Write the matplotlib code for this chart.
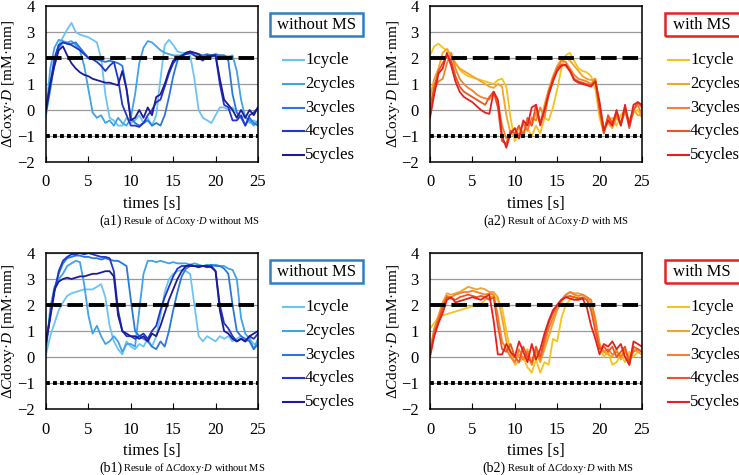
import numpy as np
import matplotlib
matplotlib.use('Agg')
import matplotlib.pyplot as plt
from matplotlib.lines import Line2D
from matplotlib.patches import Rectangle

plt.rcParams['font.family'] = ['Liberation Serif', 'DejaVu Serif']
plt.rcParams['mathtext.fontset'] = 'custom'
plt.rcParams['mathtext.rm'] = 'Liberation Serif'
plt.rcParams['mathtext.it'] = 'Liberation Serif:italic'

# sampling grid [s]
times = np.arange(0, 25.5, 0.5)
labels = ['1cycle', '2cycles', '3cycles', '4cycles', '5cycles']

# (a1) dCoxy*D without MS
a1_c1 = [-0.2, 0.8, 1.9, 2.5, 2.8, 3.1, 3.35, 3.0, 2.9, 2.85, 2.8, 2.7, 2.6, 2.0, 0.6, -0.3, -0.4, -0.6, -0.6, -0.3,
         -0.5, -0.4, -0.2, -0.5, -0.3, -0.6, -0.2, 1.2, 2.5, 2.7, 2.5, 2.25, 2.2, 2.2, 2.1, 1.2, 0.0, -0.3, -0.4, -0.5,
         -0.2, 0.1, 0.1, 0.0, 0.1, -0.1, -0.3, -0.2, -0.5, -0.4, -0.5]
a1_c2 = [-0.2, 1.6, 2.4, 2.7, 2.65, 2.6, 2.65, 2.5, 2.3, 1.7, 0.8, -0.1, -0.3, -0.2, -0.5, -0.4, -0.6, -0.3, -0.5, -0.6,
         -0.3, 0.6, 1.8, 2.4, 2.65, 2.6, 2.45, 2.3, 2.2, 2.15, 2.1, 2.1, 2.1, 2.15, 2.2, 2.1, 2.1, 2.05, 2.1, 2.1,
         2.05, 2.1, 2.1, 2.05, 2.1, 1.5, 0.4, -0.3, -0.4, -0.6, -0.4]
a1_c3 = [-0.1, 0.8, 1.8, 2.4, 2.6, 2.55, 2.55, 2.6, 2.4, 2.2, 2.0, 2.0, 1.95, 1.9, 1.85, 1.9, 1.85, 1.8, 1.7, 0.8,
         -0.3, -0.5, -0.6, -0.5, -0.4, -0.6, -0.5, -0.6, -0.2, 0.5, 1.3, 1.9, 2.1, 2.2, 2.25, 2.2, 2.15, 2.1, 2.15, 2.1,
         2.15, 2.1, 2.1, 1.9, 0.6, -0.1, -0.3, -0.6, -0.3, -0.5, -0.6]
a1_c4 = [0.0, 1.0, 2.0, 2.5, 2.6, 2.55, 2.5, 2.4, 2.3, 2.15, 2.0, 1.95, 1.85, 1.7, 1.5, 1.7, 1.85, 1.2, 0.2, -0.2,
         -0.6, -0.6, -0.65, -0.5, -0.2, 0.0, 0.3, 0.4, 0.9, 1.4, 1.8, 2.0, 2.1, 2.15, 2.2, 2.1, 2.0, 1.9, 2.1, 2.05,
         2.1, 1.0, 0.2, 0.1, -0.4, -0.4, -0.2, -0.6, -0.2, -0.1, 0.1]
a1_c5 = [0.0, 1.0, 1.7, 2.3, 2.45, 2.1, 1.8, 1.6, 1.45, 1.35, 1.3, 1.2, 1.15, 1.1, 1.05, 1.05, 1.0, 0.95, 1.5, 0.8,
         -0.4, -0.3, 0.0, -0.3, 0.1, -0.2, 0.5, 0.6, 1.0, 1.5, 1.9, 2.0, 2.05, 2.2, 2.25, 2.2, 2.15, 2.0, 2.05, 2.1,
         2.1, 1.2, 0.4, 0.2, 0.0, -0.3, 0.0, -0.3, 0.0, -0.2, 0.1]

# (a2) dCoxy*D with MS
a2_c1 = [2.1, 2.45, 2.55, 2.4, 2.3, 2.05, 1.8, 1.55, 1.4, 1.3, 1.25, 1.2, 1.15, 1.1, 1.05, 1.0, 1.15, 1.2, 0.9, -0.3,
         -1.2, -0.9, -0.8, -0.7, -1.0, -0.6, -0.9, -0.3, -0.4, 0.1, 0.8, 1.6, 2.1, 2.2, 1.9, 1.6, 1.5, 1.45, 1.3, 0.8,
         -0.3, -0.9, -0.4, -0.3, -0.6, -0.2, 0.0, -0.5, -0.1, 0.0, -0.3]
a2_c2 = [0.5, 1.2, 1.6, 2.2, 2.35, 2.1, 1.8, 1.6, 1.5, 1.4, 1.3, 1.2, 1.1, 1.0, 0.9, 0.85, 1.0, 0.9, -0.2, -0.9,
         -1.0, -0.7, -1.0, -0.4, -0.6, -0.1, -0.5, 0.2, 0.8, 1.3, 1.7, 1.95, 2.05, 1.9, 1.7, 1.5, 1.3, 1.2, 1.15, 1.2,
         0.2, -0.7, -0.5, -0.7, -0.3, -0.5, -0.1, -0.4, 0.0, -0.2, -0.2]
a2_c3 = [-0.2, 0.8, 1.1, 1.2, 1.8, 2.2, 1.6, 1.2, 1.0, 0.85, 0.75, 0.6, 0.5, 0.45, 0.4, 0.7, 0.3, -0.6, -1.1, -0.9,
         -0.7, -1.0, -0.5, -0.8, -0.3, -0.4, 0.1, -0.3, 0.6, 1.1, 1.6, 1.9, 1.85, 1.6, 1.35, 1.2, 1.15, 1.1, 1.0, 1.2,
         0.1, -0.8, -0.3, -0.6, -0.2, -0.5, 0.0, -0.6, 0.0, 0.2, -0.2]
a2_c4 = [0.1, 0.9, 1.5, 1.8, 2.1, 1.9, 1.3, 0.9, 0.7, 0.6, 0.5, 0.4, 0.3, 0.2, 0.5, 0.7, 0.1, -1.2, -1.3, -0.8,
         -0.9, -0.6, -1.0, -0.3, -0.6, 0.2, -0.5, 0.0, 0.7, 1.2, 1.6, 1.75, 1.7, 1.5, 1.2, 1.1, 1.05, 1.0, 0.95, 1.1,
         0.0, -0.9, -0.2, -0.5, -0.1, -0.6, 0.1, -0.7, 0.0, 0.3, 0.1]
a2_c5 = [-0.3, 0.6, 1.4, 1.6, 2.2, 1.7, 1.1, 0.7, 0.5, 0.4, 0.3, 0.15, 0.0, -0.1, -0.15, 0.7, 0.4, -1.0, -1.45, -0.9,
         -0.7, -1.1, -0.4, -0.6, 0.1, 0.2, -0.6, 0.0, 0.6, 1.1, 1.5, 1.7, 1.75, 1.5, 1.15, 1.05, 1.0, 0.95, 0.9, 1.1,
         0.3, -0.8, -0.4, -0.6, 0.0, -0.6, 0.2, -0.6, 0.2, 0.3, 0.2]

# (b1) dCdoxy*D without MS
b1_c1 = [0.1, 0.8, 1.3, 1.8, 2.1, 2.35, 2.45, 2.5, 2.55, 2.6, 2.6, 2.6, 2.7, 2.8, 2.3, 1.2, 0.6, 0.3, 0.1, 0.6,
         0.4, 0.3, 0.5, 0.4, 0.7, 0.4, 0.8, 1.6, 2.5, 3.0, 3.2, 3.3, 3.35, 3.3, 3.2, 2.0, 0.8, 0.6, 0.8, 0.7,
         0.6, 0.8, 0.7, 0.8, 0.6, 0.7, 0.8, 0.6, 0.7, 0.5, 0.5]
b1_c2 = [0.2, 1.9, 2.7, 3.0, 3.2, 3.5, 3.6, 3.7, 3.65, 2.8, 1.6, 0.9, 1.2, 0.8, 0.5, 0.6, 0.8, 0.6, 0.2, 0.5,
         0.5, 0.4, 1.8, 3.2, 3.7, 3.7, 3.65, 3.7, 3.65, 3.6, 3.65, 3.6, 3.6, 3.6, 3.55, 3.6, 3.55, 3.5, 3.55, 3.5,
         3.55, 3.5, 3.5, 3.4, 3.35, 3.0, 1.5, 0.9, 0.7, 0.3, 0.7]
b1_c3 = [0.5, 1.6, 2.6, 3.2, 3.6, 3.8, 3.85, 3.9, 3.9, 3.85, 3.85, 3.8, 3.8, 3.75, 3.8, 3.75, 3.7, 3.7, 3.6, 3.5,
         2.2, 1.0, 0.8, 0.7, 0.6, 0.4, 0.3, 0.6, 0.4, 1.0, 1.8, 2.5, 3.1, 3.4, 3.5, 3.5, 3.5, 3.5, 3.5, 3.55,
         3.5, 3.5, 3.4, 3.2, 2.0, 1.0, 0.8, 0.7, 0.6, 0.3, 0.5]
b1_c4 = [0.6, 1.5, 2.5, 3.3, 3.7, 3.85, 3.95, 3.95, 4.0, 3.95, 4.0, 3.95, 3.9, 3.85, 3.85, 3.8, 3.3, 1.8, 1.0, 0.8,
         0.8, 0.7, 0.8, 0.9, 0.7, 1.0, 1.2, 1.8, 2.3, 2.7, 3.1, 3.4, 3.5, 3.5, 3.55, 3.5, 3.5, 3.5, 3.45, 3.5,
         3.3, 2.0, 1.3, 1.1, 0.8, 0.6, 0.7, 0.6, 0.8, 0.7, 0.9]
b1_c5 = [0.5, 1.6, 2.6, 2.9, 3.0, 3.05, 3.0, 3.05, 3.1, 3.1, 3.15, 3.2, 3.2, 3.25, 3.3, 3.3, 3.1, 1.6, 1.0, 0.9,
         0.8, 0.8, 0.7, 0.8, 0.6, 0.9, 0.8, 1.2, 1.7, 2.2, 2.6, 3.0, 3.3, 3.5, 3.5, 3.5, 3.45, 3.5, 3.5, 3.45,
         3.3, 1.8, 1.0, 0.9, 0.7, 0.6, 0.7, 0.6, 0.8, 0.9, 1.0]

# (b2) dCdoxy*D with MS
b2_c1 = [1.1, 1.3, 1.55, 1.6, 1.65, 1.7, 1.75, 1.8, 1.85, 1.9, 1.95, 2.0, 2.05, 2.2, 2.3, 2.35, 2.2, 1.9, 1.0, 0.2,
         -0.3, -0.2, 0.0, -0.4, -0.6, -0.1, -0.6, -0.2, -0.3, 0.7, 0.6, 1.5, 2.0, 2.2, 2.3, 2.3, 2.25, 2.2, 2.0, 1.3,
         0.5, 0.0, 0.2, -0.3, -0.2, 0.1, -0.2, 0.2, 0.0, 0.2, 0.1]
b2_c2 = [0.3, 1.0, 1.6, 2.1, 2.45, 2.4, 2.45, 2.5, 2.6, 2.7, 2.65, 2.6, 2.65, 2.6, 2.5, 2.5, 2.3, 1.5, 0.6, 0.1,
         -0.2, 0.1, -0.1, 0.3, -0.3, 0.2, -0.2, 0.3, 0.8, 1.3, 1.8, 2.1, 2.35, 2.5, 2.45, 2.45, 2.4, 2.3, 2.1, 1.5,
         0.5, 0.2, 0.1, 0.0, 0.3, -0.1, 0.2, 0.0, 0.3, 0.2, 0.1]
b2_c3 = [0.2, 1.1, 1.5, 2.0, 2.35, 2.3, 2.4, 2.45, 2.5, 2.5, 2.55, 2.5, 2.45, 2.4, 2.45, 2.4, 1.6, 0.6, 0.3, 0.0,
         -0.2, 0.3, -0.1, 0.2, -0.3, 0.3, -0.1, 0.5, 1.1, 1.5, 1.9, 2.2, 2.4, 2.5, 2.4, 2.35, 2.4, 2.3, 2.2, 1.4,
         0.4, 0.2, 0.3, 0.1, 0.2, 0.0, 0.3, -0.1, 0.2, 0.3, 0.2]
b2_c4 = [0.1, 0.9, 1.4, 1.9, 2.3, 2.25, 2.2, 2.3, 2.35, 2.4, 2.35, 2.3, 2.35, 2.3, 2.2, 2.3, 1.2, 0.3, 0.2, 0.5,
         0.0, -0.2, 0.4, 0.0, -0.2, 0.4, 0.0, 0.7, 1.3, 1.7, 2.0, 2.2, 2.3, 2.35, 2.3, 2.25, 2.3, 2.2, 1.8, 1.0,
         0.3, 0.4, 0.2, 0.4, 0.0, 0.2, 0.4, -0.3, 0.4, 0.3, 0.2]
b2_c5 = [0.0, 0.8, 1.3, 1.7, 2.2, 2.3, 2.1, 2.15, 2.2, 2.25, 2.3, 2.25, 2.2, 2.3, 2.4, 1.4, 0.1, 0.1, 0.5, 0.2,
         0.0, 0.6, 0.2, -0.2, 0.5, -0.1, 0.3, 0.9, 1.4, 1.8, 2.0, 2.2, 2.3, 2.25, 2.2, 2.2, 2.25, 1.9, 1.2, 0.7,
         0.1, 0.5, 0.4, 0.6, 0.3, 0.5, 0.0, -0.3, 0.6, 0.5, 0.4]

blues = ['#6cc4f4', '#3fa3ea', '#2a78dc', '#2036cc', '#1c1c98']
reds = ['#f6c21c', '#f5a228', '#f2822e', '#ec5424', '#e6201c']

W, H = 739, 475
fx = lambda px: px / W
fy = lambda py: 1 - py / H

fig = plt.figure(figsize=(7.39, 4.75), dpi=100)

panels = [
    (46, 6, [a1_c1, a1_c2, a1_c3, a1_c4, a1_c5], blues, 'ΔCoxy·$D$ [mM·mm]',
     '(a1)', 'Resule of Δ$C$oxy·$D$ without MS', 'without MS', '#2f7fc4'),
    (430, 6, [a2_c1, a2_c2, a2_c3, a2_c4, a2_c5], reds, 'ΔCoxy·$D$ [mM·mm]',
     '(a2)', 'Result of Δ$C$oxy·$D$ with MS', 'with MS', '#e02424'),
    (46, 253, [b1_c1, b1_c2, b1_c3, b1_c4, b1_c5], blues, 'Δ$C$doxy·$D$ [mM·mm]',
     '(b1)', 'Resule of Δ$C$doxy·$D$ without MS', 'without MS', '#2f7fc4'),
    (430, 253, [b2_c1, b2_c2, b2_c3, b2_c4, b2_c5], reds, 'Δ$C$doxy·$D$ [mM·mm]',
     '(b2)', 'Result of Δ$C$doxy·$D$ with MS', 'with MS', '#e02424'),
]

for left, top, series, cols, ylab, tag, cap, boxtxt, boxcol in panels:
    ax = fig.add_axes([fx(left), fy(top + 156), 212 / W, 156 / H])
    for y in range(-2, 5):
        ax.axhline(y, color='#9a9a9a', lw=0.9, zorder=0)
    for s, c in zip(series, cols):
        ax.plot(times, s, color=c, lw=1.3, zorder=2)
    ax.axhline(2, color='black', lw=2.8, dashes=(4, 1.5), zorder=3)
    ax.axhline(-1, color='black', lw=2.8, dashes=(1, 0.8), zorder=3)
    ax.set_xlim(0, 25)
    ax.set_ylim(-2, 4)
    ax.set_xticks(range(0, 26, 5))
    ax.set_yticks(range(-2, 5))
    ax.tick_params(axis='x', direction='in', length=4, labelsize=12, pad=9)
    ax.tick_params(axis='y', length=0, labelsize=12, pad=8)
    for sp in ax.spines.values():
        sp.set_linewidth(1.1)
    ax.set_xlabel('times [s]', fontsize=12, labelpad=4)
    ax.set_ylabel(ylab, fontsize=11)
    ax.yaxis.label.set_verticalalignment('center')
    ax.yaxis.set_label_coords(-37 / 212, 0.5)

    # captions
    fig.text(fx(left + 76), fy(top + 215), tag, fontsize=10, ha='right', va='center')
    fig.text(fx(left + 77), fy(top + 215), cap, fontsize=7.6, ha='left', va='center')

    # legend title box
    bx = left + 224 if left < 100 else left + 235
    rect = Rectangle((fx(bx), fy(top + 30)), 93 / W, 23 / H, transform=fig.transFigure,
                     fill=False, edgecolor=boxcol, lw=1.8)
    fig.add_artist(rect)
    tx = bx + 46.5 if left < 100 else bx + 37
    fig.text(fx(tx), fy(top + 19), boxtxt, fontsize=12, ha='center', va='center')

    # legend entries
    lx0 = left + 237 if left < 100 else left + 238
    for i, (lab, c) in enumerate(zip(labels, cols)):
        yy = top + 54 + 23.8 * i
        fig.add_artist(Line2D([fx(lx0), fx(lx0 + 21)], [fy(yy), fy(yy)], color=c, lw=1.5))
        fig.text(fx(lx0 + 22), fy(yy), lab, fontsize=12, ha='left', va='center')

fig.savefig('out.png', dpi=100)
